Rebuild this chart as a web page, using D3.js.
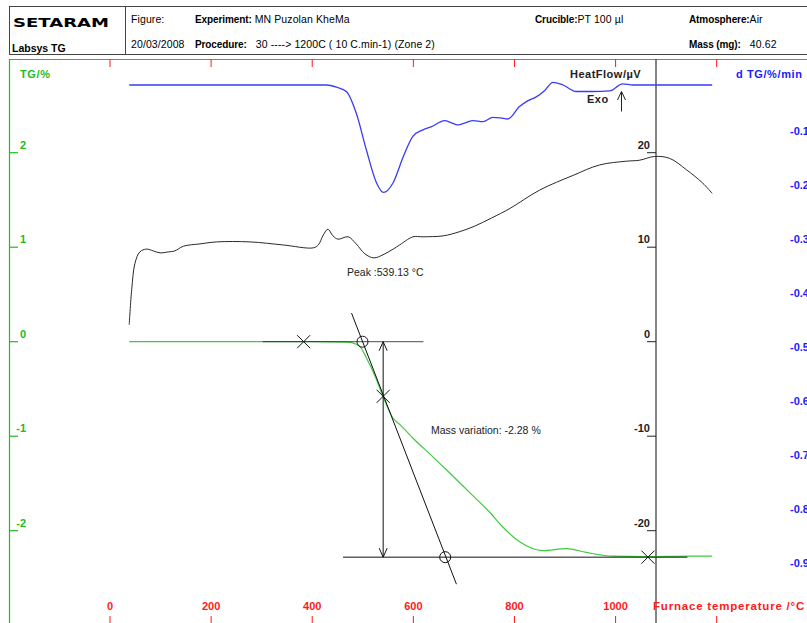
<!DOCTYPE html>
<html>
<head>
<meta charset="utf-8">
<script src="https://cdn.jsdelivr.net/npm/d3@7"></script>
<style>
  body { margin: 0; background: #fff; }
  svg { display: block; font-family: "Liberation Sans", Arial, sans-serif; }
</style>
</head>
<body>
<div id="chart"></div>
<script>
// --- DATA ---
// Furnace temperature (°C) axis ticks
const TEMP_TICKS = [0, 200, 400, 600, 800, 1000];
const TG_TICKS = [2, 1, 0, -1, -2];
const HF_TICKS = [20, 10, 0, -10, -20];
const DTG_TICKS = [-0.1, -0.2, -0.3, -0.4, -0.5, -0.6, -0.7, -0.8, -0.9];

// TG curve (%)
const tgTemp = [38, 200, 400, 470, 478, 494, 507, 527, 540, 560, 574, 603, 633, 672, 712, 752, 775, 811, 856, 903, 942, 995, 1060, 1146, 1191];
const tgVal  = [0, 0, 0, -0.005, -0.01, -0.05, -0.17, -0.40, -0.58, -0.81, -0.88, -1.04, -1.19, -1.39, -1.60, -1.81, -1.95, -2.12, -2.21, -2.19, -2.23, -2.27, -2.275, -2.27, -2.27];

// Heat flow curve (µV)
const hfTemp = [38, 42.9, 49.4, 59, 72, 86, 99, 115, 128, 145, 178, 211, 277, 342, 402, 412, 422, 431, 441, 451, 471, 487, 504, 522, 540, 560, 573, 580, 599, 619, 659, 692, 720, 755, 791, 850, 916, 968, 1021, 1047, 1077, 1107, 1140, 1172, 1191];
const hfVal  = [1.8, 5.5, 8.3, 9.5, 9.8, 9.6, 9.4, 9.5, 9.6, 10.1, 10.35, 10.56, 10.56, 10.24, 9.93, 10.24, 11.3, 11.9, 11.2, 10.85, 11.1, 10.35, 9.3, 8.87, 9.2, 9.8, 10.24, 10.5, 11.1, 11.1, 11.2, 11.65, 12.2, 13.1, 14.1, 16.05, 17.6, 18.7, 19.1, 19.2, 19.6, 19.4, 18.2, 16.8, 15.7];

// dTG curve (%/min)
const dtgTemp = [38, 300, 428, 448, 468, 487, 507, 527, 541, 560, 580, 599, 619, 639, 652, 662, 675, 688, 703, 718, 738, 757, 772, 787, 810, 827, 843, 860, 876, 896, 922, 955, 988, 1014, 1034, 1100, 1191];
const dtgVal  = [0, 0, 0, -0.004, -0.0124, -0.052, -0.120, -0.181, -0.199, -0.181, -0.133, -0.095, -0.083, -0.076, -0.069, -0.066, -0.070, -0.074, -0.070, -0.066, -0.068, -0.060, -0.061, -0.063, -0.040, -0.029, -0.022, -0.010, 0.005, 0.000, -0.012, -0.012, -0.011, 0.002, 0, 0, 0];

// Tangent construction on the TG step (temperature, TG %)
const baseTop = [[302, 0], [620, 0]];
const baseBottom = [[461, -2.28], [1142, -2.28]];
const tangent = [[477.7, 0.303], [685.2, -2.566]];
const crossMarks = [[383, 0], [540.3, -0.578], [1064, -2.28]];
const circleMarks = [[499.4, 0], [663, -2.28]];
const stepTemp = 540.3;
const stepFrom = 0, stepTo = -2.28;

// --- SETUP ---
const width = 807, height = 623;
const svg = d3.select("#chart").append("svg")
  .attr("width", width).attr("height", height);

const x = d3.scaleLinear().domain([0, 1200]).range([110, 716.7]);
const yTG = d3.scaleLinear().domain([-2, 2]).range([530.7, 152.7]);
const yHF = d3.scaleLinear().domain([-20, 20]).range([530.7, 152.7]);
const yDTG = d3.scaleLinear().domain([-0.9, 0]).range([571, 85]);

const RED = "#ff1a1a", GREEN = "#22bb22", BLUE = "#1a1aff", DARK = "#222";

// --- HEADER ---
const head = svg.append("g");
head.append("line").attr("x1", 9).attr("x2", width).attr("y1", 6.5).attr("y2", 6.5).attr("stroke", "#444");
head.append("line").attr("x1", 9).attr("x2", width).attr("y1", 54.5).attr("y2", 54.5).attr("stroke", "#444");
head.append("line").attr("x1", 9.5).attr("x2", 9.5).attr("y1", 6).attr("y2", 55).attr("stroke", "#444");
head.append("line").attr("x1", 125.5).attr("x2", 125.5).attr("y1", 6).attr("y2", 55).attr("stroke", "#444");

head.append("text").attr("x", 13).attr("y", 27)
  .style("font-family", "'DejaVu Sans', sans-serif").style("font-weight", "bold")
  .style("font-size", "13px")
  .attr("textLength", 96).attr("lengthAdjust", "spacingAndGlyphs").text("SETARAM");
head.append("text").attr("x", 12).attr("y", 52).style("font-weight", "bold").style("font-size", "10.5px").text("Labsys TG");

const headerItems = [
  {x: 131, y: 23, bold: "", text: "Figure:"},
  {x: 195, y: 23, bold: "Experiment:", text: " MN Puzolan KheMa"},
  {x: 131, y: 48, bold: "", text: "20/03/2008"},
  {x: 195, y: 48, bold: "Procedure:", text: "   30 ----> 1200C ( 10 C.min-1) (Zone 2)"},
  {x: 535, y: 23, bold: "Crucible:", text: "PT 100 µl"},
  {x: 689, y: 23, bold: "Atmosphere:", text: "Air"},
  {x: 689, y: 48, bold: "Mass (mg):", text: "   40.62"}
];
headerItems.forEach(d => {
  const t = head.append("text").attr("x", d.x).attr("y", d.y)
    .style("font-size", "10px").attr("xml:space", "preserve");
  if (d.bold) t.append("tspan").style("font-weight", "bold").style("letter-spacing", "-0.1px").text(d.bold);
  t.append("tspan").style("font-size", "10.5px").style("letter-spacing", "0.1px").text(d.text);
});

// --- FRAME AND AXES ---
svg.append("line").attr("x1", 9).attr("x2", width).attr("y1", 59.5).attr("y2", 59.5).attr("stroke", RED).attr("stroke-width", 0.8);
svg.append("line").attr("x1", 9.5).attr("x2", 9.5).attr("y1", 59).attr("y2", height).attr("stroke", GREEN).attr("stroke-width", 1.2);
svg.append("line").attr("x1", 656).attr("x2", 656).attr("y1", 59).attr("y2", height).attr("stroke", "#333").attr("stroke-width", 1.2);

// red temperature ticks top and bottom
const allTempTicks = TEMP_TICKS.concat([1200]);
svg.append("g").selectAll("line").data(allTempTicks).enter().append("line")
  .attr("x1", d => x(d)).attr("x2", d => x(d)).attr("y1", 59).attr("y2", 67)
  .attr("stroke", RED).attr("stroke-width", 1);
svg.append("g").selectAll("line").data(allTempTicks).enter().append("line")
  .attr("x1", d => x(d)).attr("x2", d => x(d)).attr("y1", 616).attr("y2", 623)
  .attr("stroke", RED).attr("stroke-width", 1);
svg.append("g").selectAll("text").data(TEMP_TICKS).enter().append("text")
  .attr("x", d => x(d)).attr("y", 610).attr("text-anchor", "middle")
  .style("font-size", "11px").style("font-weight", "bold").attr("fill", RED)
  .text(d => d);
svg.append("text").attr("x", 653).attr("y", 610)
  .style("font-size", "11.5px").style("font-weight", "bold").style("letter-spacing", "0.8px")
  .attr("fill", RED).text("Furnace temperature /°C");

// TG axis (left, green)
const tgG = svg.append("g");
tgG.selectAll("line").data(TG_TICKS).enter().append("line")
  .attr("x1", 9).attr("x2", 18).attr("y1", d => yTG(d)).attr("y2", d => yTG(d))
  .attr("stroke", GREEN).attr("stroke-width", 1.2);
tgG.selectAll("text").data(TG_TICKS).enter().append("text")
  .attr("x", 26).attr("y", d => yTG(d) - 4).attr("text-anchor", "end")
  .style("font-size", "11px").style("font-weight", "bold").attr("fill", GREEN)
  .text(d => d);
svg.append("text").attr("x", 20).attr("y", 78)
  .style("font-size", "11px").style("font-weight", "bold").style("letter-spacing", "0.6px")
  .attr("fill", GREEN).text("TG/%");

// HeatFlow axis (black)
const hfG = svg.append("g");
hfG.selectAll("line").data(HF_TICKS).enter().append("line")
  .attr("x1", 647).attr("x2", 656).attr("y1", d => yHF(d)).attr("y2", d => yHF(d))
  .attr("stroke", DARK).attr("stroke-width", 1);
hfG.selectAll("text").data(HF_TICKS).enter().append("text")
  .attr("x", 650).attr("y", d => yHF(d) - 4).attr("text-anchor", "end")
  .style("font-size", "11px").style("font-weight", "bold").attr("fill", DARK)
  .text(d => d);
svg.append("text").attr("x", 570).attr("y", 78)
  .style("font-size", "11px").style("font-weight", "bold").style("letter-spacing", "0.5px")
  .attr("fill", DARK).text("HeatFlow/µV");
svg.append("text").attr("x", 587).attr("y", 103)
  .style("font-size", "11px").style("font-weight", "bold").style("letter-spacing", "0.5px")
  .attr("fill", DARK).text("Exo");
// Exo arrow
svg.append("path")
  .attr("d", "M621.5,111.5 L621.5,91.5 M617.5,100 L621.5,91.5 L625.5,100")
  .attr("fill", "none").attr("stroke", DARK).attr("stroke-width", 1);

// dTG axis (right, blue; cut off at the page edge as in the original)
svg.append("g").selectAll("text").data(DTG_TICKS).enter().append("text")
  .attr("x", 790).attr("y", d => yDTG(d) - 4)
  .style("font-size", "11px").style("font-weight", "bold").attr("fill", BLUE)
  .text(d => d.toFixed(1));
svg.append("text").attr("x", 736).attr("y", 78)
  .style("font-size", "11px").style("font-weight", "bold").style("letter-spacing", "0.6px")
  .attr("fill", BLUE).text("d TG/%/min");

// --- CURVES ---
const zip = (a, b) => a.map((t, i) => [t, b[i]]);

const tgLine = d3.line().x(d => x(d[0])).y(d => yTG(d[1])).curve(d3.curveMonotoneX);
const hfLine = d3.line().x(d => x(d[0])).y(d => yHF(d[1])).curve(d3.curveCatmullRom.alpha(0.5));
const dtgLine = d3.line().x(d => x(d[0])).y(d => yDTG(d[1])).curve(d3.curveMonotoneX);

svg.append("path").attr("d", dtgLine(zip(dtgTemp, dtgVal)))
  .attr("fill", "none").attr("stroke", "#3b3bf5").attr("stroke-width", 1.3);
svg.append("path").attr("d", hfLine(zip(hfTemp, hfVal)))
  .attr("fill", "none").attr("stroke", "#2a2a2a").attr("stroke-width", 1);
svg.append("path").attr("d", tgLine(zip(tgTemp, tgVal)))
  .attr("fill", "none").attr("stroke", "#3ccc3c").attr("stroke-width", 1.2);

svg.append("text").attr("x", 347).attr("y", 276)
  .style("font-size", "10.5px").attr("fill", DARK)
  .text("Peak :539.13 °C");

// --- TANGENT CONSTRUCTION ---
const cons = svg.append("g").attr("stroke", "#111").attr("fill", "none").attr("stroke-width", 1);
const seg = p => cons.append("line")
  .attr("x1", x(p[0][0])).attr("y1", yTG(p[0][1]))
  .attr("x2", x(p[1][0])).attr("y2", yTG(p[1][1]));
seg(baseTop).attr("stroke-opacity", 0.75);
seg(baseBottom);
seg(tangent);
crossMarks.forEach(d => {
  const cx = x(d[0]), cy = yTG(d[1]), r = 6.5;
  cons.append("path").attr("d", `M${cx - r},${cy - r}L${cx + r},${cy + r}M${cx - r},${cy + r}L${cx + r},${cy - r}`);
});
circleMarks.forEach(d => {
  cons.append("circle").attr("cx", x(d[0])).attr("cy", yTG(d[1])).attr("r", 5.5);
});
// double-headed arrow for mass variation
const ax = x(stepTemp), ay0 = yTG(stepFrom), ay1 = yTG(stepTo);
cons.append("line").attr("x1", ax).attr("x2", ax).attr("y1", ay0).attr("y2", ay1);
cons.append("path").attr("d", `M${ax - 4},${ay0 + 9}L${ax},${ay0}L${ax + 4},${ay0 + 9}`);
cons.append("path").attr("d", `M${ax - 4},${ay1 - 9}L${ax},${ay1}L${ax + 4},${ay1 - 9}`);

svg.append("text").attr("x", 431).attr("y", 434)
  .style("font-size", "10.5px").attr("fill", DARK)
  .text("Mass variation: -2.28 %");
</script>
</body>
</html>
